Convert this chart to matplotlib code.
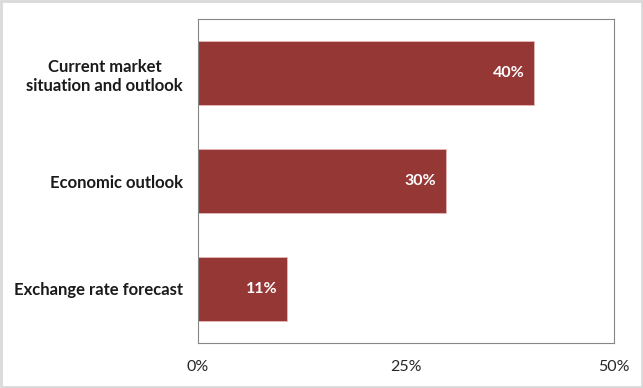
import matplotlib.pyplot as plt
from matplotlib.patches import Rectangle

categories = ["Current market\nsituation and outlook", "Economic outlook", "Exchange rate forecast"]
shares = [40.4, 29.8, 10.7]
ticks = [0, 25, 50]
tick_labels = ["0%", "25%", "50%"]

bar_color = "#953735"
plt.rcParams["font.family"] = ["Lato", "DejaVu Sans"]

fig = plt.figure(figsize=(6.43, 3.88), dpi=100)
ax = fig.add_axes([0.308, 0.116, 0.647, 0.835])

ypos = range(len(categories))
bars = ax.barh(ypos, shares, height=0.6, color=bar_color, edgecolor="#e6b9b8", linewidth=0.6)
ax.set_ylim(len(categories) - 0.5, -0.5)
ax.set_xlim(0, 50)

# value labels inside the bar ends
for b, v in zip(bars, shares):
    ax.text(b.get_width() - 1.2, b.get_y() + b.get_height() / 2, "%.0f%%" % v,
            ha="right", va="center", color="white", fontsize=11.5, fontweight="bold")

ax.set_yticks(list(ypos))
ax.set_yticklabels(categories, fontsize=12, fontweight="bold", color="#1a1a1a",
                   multialignment="center", linespacing=1.3)
ax.set_xticks(ticks)
ax.set_xticklabels(tick_labels, fontsize=11.5, color="#262626")
ax.tick_params(axis="both", length=0)
ax.tick_params(axis="y", pad=11)
ax.tick_params(axis="x", pad=12)

for side in ["left", "bottom", "top", "right"]:
    ax.spines[side].set_color("#868686")

# light frame around the whole chart
fig.patches.append(Rectangle((0.002, 0.003), 0.996, 0.994, transform=fig.transFigure,
                             fill=False, edgecolor="#d9d9d9", linewidth=2))

fig.savefig("out.png", dpi=100)
